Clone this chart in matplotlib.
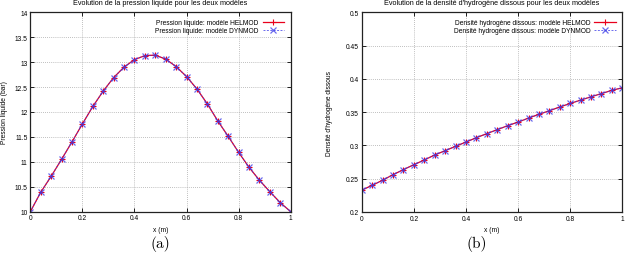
import numpy as np
import matplotlib.pyplot as plt

# positions along x (m)
x_pts = [0.0, 0.04, 0.08, 0.12, 0.16, 0.20, 0.24, 0.28, 0.32, 0.36, 0.40, 0.44, 0.48,
         0.52, 0.56, 0.60, 0.64, 0.68, 0.72, 0.76, 0.80, 0.84, 0.88, 0.92, 0.96, 1.0]

# liquid pressure (bar)
p_helmod = [10.0, 10.39, 10.71, 11.05, 11.40, 11.76, 12.11, 12.42, 12.69, 12.90, 13.05, 13.13, 13.14,
            13.06, 12.91, 12.71, 12.46, 12.16, 11.82, 11.51, 11.19, 10.89, 10.63, 10.40, 10.18, 10.0]
p_dynmod = p_helmod

# dissolved hydrogen density
d_helmod = [0.2326, 0.2400, 0.2476, 0.2560, 0.2635, 0.2710, 0.2780, 0.2856, 0.2920, 0.2986, 0.3050, 0.3116, 0.3176,
            0.3236, 0.3296, 0.3350, 0.3410, 0.3467, 0.3520, 0.3577, 0.3630, 0.3680, 0.3730, 0.3778, 0.3827, 0.3866]
d_dynmod = d_helmod

plt.rcParams['font.family'] = ['Liberation Sans', 'DejaVu Sans']

fig = plt.figure(figsize=(6.28, 2.55), dpi=100)
ax1 = fig.add_axes([0.0483, 0.166, 0.4146, 0.782])
ax2 = fig.add_axes([0.576, 0.165, 0.415, 0.783])


def style(ax):
    ax.grid(True, color='#aaaaaa', linestyle=(0, (1, 1.5)), linewidth=0.6)
    ax.tick_params(direction='in', top=True, right=True, labelsize=4.8, length=3, width=0.6, pad=2)
    for s in ax.spines.values():
        s.set_linewidth(0.9)
        s.set_color('#222222')
    ax.set_xlim(0, 1)
    ax.set_xticks([0, 0.2, 0.4, 0.6, 0.8, 1])
    ax.set_xticklabels(['0', '0.2', '0.4', '0.6', '0.8', '1'])
    ax.set_xlabel('x (m)', fontsize=4.8, labelpad=3)


ax1.plot(x_pts, p_helmod, color='#e8001c', marker='+', markersize=5, mew=0.8, lw=0.9,
         label='Pression liquide: modèle HELMOD')
ax1.plot(x_pts, p_dynmod, color='#3a3ae8', marker='x', markersize=4.5, mew=0.9, lw=0.7,
         linestyle=(0, (2, 1.5)), label='Pression liquide: modèle DYNMOD', alpha=0.75)
style(ax1)
ax1.set_ylim(10, 14)
ax1.set_yticks([10, 10.5, 11, 11.5, 12, 12.5, 13, 13.5, 14])
ax1.set_yticklabels(['10', '10.5', '11', '11.5', '12', '12.5', '13', '13.5', '14'])
ax1.set_ylabel('Pression liquide (bar)', fontsize=4.8, labelpad=5)
ax1.set_title('Evolution de la pression liquide pour les deux modèles', fontsize=5.2, pad=6)
ax1.legend(loc='upper right', fontsize=4.8, frameon=False, markerfirst=False,
           handlelength=3.2, labelspacing=0.2, borderaxespad=0.6, handletextpad=0.6)

ax2.plot(x_pts, d_helmod, color='#e8001c', marker='+', markersize=5, mew=0.8, lw=0.9,
         label="Densité hydrogène dissous: modèle HELMOD")
ax2.plot(x_pts, d_dynmod, color='#3a3ae8', marker='x', markersize=4.5, mew=0.9, lw=0.7,
         linestyle=(0, (2, 1.5)), label="Densité hydrogène dissous: modèle DYNMOD", alpha=0.75)
style(ax2)
ax2.set_ylim(0.2, 0.5)
ax2.set_yticks([0.2, 0.25, 0.3, 0.35, 0.4, 0.45, 0.5])
ax2.set_yticklabels(['0.2', '0.25', '0.3', '0.35', '0.4', '0.45', '0.5'])
ax2.set_ylabel("Densité d'hydrogène dissous", fontsize=4.8, labelpad=9)
ax2.set_title("Evolution de la densité d'hydrogène dissous pour les deux modèles", fontsize=5.2, pad=6)
ax2.legend(loc='upper right', fontsize=4.8, frameon=False, markerfirst=False,
           handlelength=3.2, labelspacing=0.2, borderaxespad=0.6, handletextpad=0.6)

fig.text(0.255, 0.028, '(a)', fontsize=11, family=['cmr10', 'DejaVu Serif'], ha='center')
fig.text(0.759, 0.028, '(b)', fontsize=11, family=['cmr10', 'DejaVu Serif'], ha='center')

fig.savefig('out.png', dpi=100)
